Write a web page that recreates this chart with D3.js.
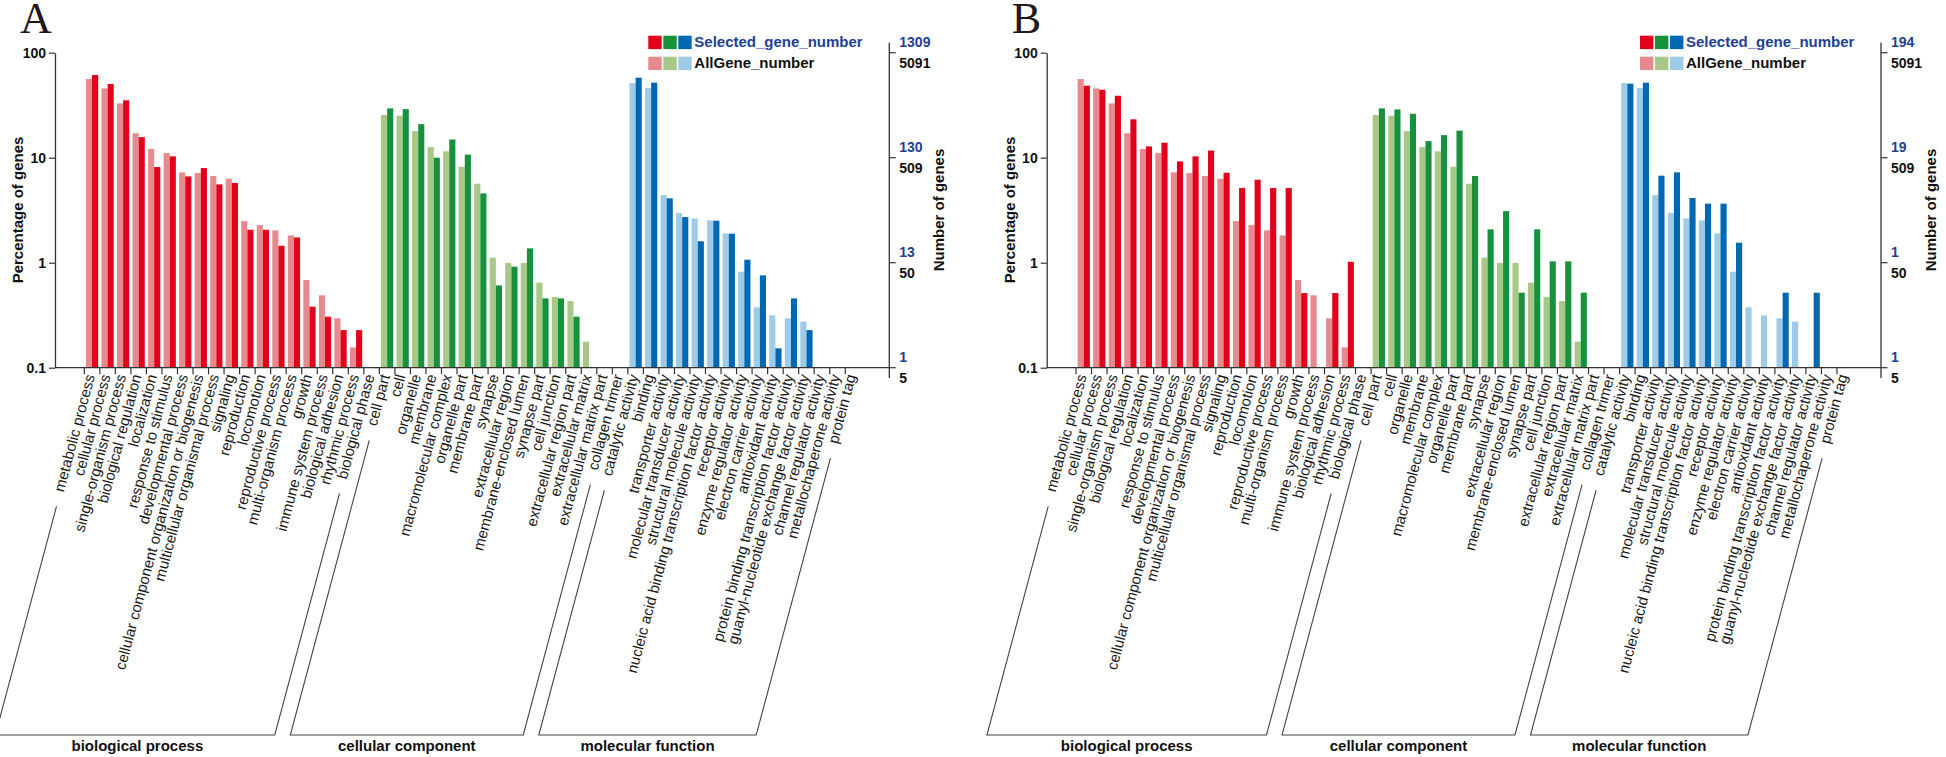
<!DOCTYPE html>
<html><head><meta charset="utf-8">
<script src="https://cdn.jsdelivr.net/npm/d3@7"></script>
<style>
html,body{margin:0;padding:0;background:#fff;}
svg{display:block;}
</style></head>
<body>
<svg id="chart" width="1946" height="757" font-family="'Liberation Sans',Arial,Helvetica,sans-serif"></svg>
<script>
// ---------- data ----------
const bpCategories = ["metabolic process","cellular process","single-organism process","biological regulation","localization","response to stimulus","developmental process","cellular component organization or biogenesis","multicellular organismal process","signaling","reproduction","locomotion","reproductive process","multi-organism process","growth","immune system process","biological adhesion","rhythmic process","biological phase"];
const ccCategories = ["cell part","cell","organelle","membrane","macromolecular complex","organelle part","membrane part","synapse","extracellular region","membrane-enclosed lumen","synapse part","cell junction","extracellular region part","extracellular matrix","extracellular matrix part","collagen trimer"];
const mfCategories = ["catalytic activity","binding","transporter activity","molecular transducer activity","structural molecule activity","nucleic acid binding transcription factor activity","receptor activity","enzyme regulator activity","electron carrier activity","antioxidant activity","protein binding transcription factor activity","guanyl-nucleotide exchange factor activity","channel regulator activity","metallochaperone activity","protein tag"];
const groupNames = ["biological process","cellular component","molecular function"];

// AllGene_number percentages (same background in both panels)
const allBP = [56.1,45.7,32.9,17.1,12.1,11.1,7.25,7.14,6.69,6.31,2.49,2.28,2.03,1.82,0.684,0.489,0.295,0.156,null];
const allCC = [25.5,25.1,17.9,12.6,11.5,8.2,5.65,1.116,0.993,0.993,0.645,0.471,0.431,0.177,null,null];
const allMF = [51.4,46.0,4.41,2.97,2.64,2.53,1.90,0.821,0.376,0.315,0.295,0.274,null,null,null];

// Panel A Selected_gene_number percentages
const selA_BP = [61.3,50.3,35.2,15.7,8.15,10.3,6.64,7.97,5.57,5.74,2.06,2.06,1.45,1.74,0.381,0.306,0.228,0.228,null];
const selA_CC = [29.5,29.0,20.9,10.0,14.9,10.7,4.57,0.608,0.916,1.37,0.457,0.457,0.306,null,null,null];
const selA_MF = [57.8,51.8,4.10,2.72,1.60,2.51,1.89,1.068,0.757,0.153,0.457,0.228,null,null,null];

// Panel B Selected_gene_number percentages
const selB_BP = [48.5,44.4,38.9,23.2,12.8,13.9,9.23,10.3,11.7,7.19,5.14,6.17,5.14,5.14,0.514,null,0.514,1.02,null];
const selB_CC = [29.5,28.8,26.2,14.4,16.4,18.1,6.69,2.08,3.1,0.518,2.08,1.03,1.03,0.518,null,null];
const selB_MF = [50.7,51.8,6.74,7.25,4.13,3.65,3.65,1.55,null,null,0.518,null,0.518,null,null];

const pctTicks = [0.1,1,10,100];
const pctTickLabels = ["0.1","1","10","100"];
const allGeneTickLabels = ["5","50","509","5091"];
const selTickLabelsA = ["1","13","130","1309"];
const selTickLabelsB = ["1","1","19","194"];

const legendLabels = ["Selected_gene_number","AllGene_number"];
const darkColors = ["#e3001b","#15923b","#0068b2"];
const lightColors = ["#e68a8e","#a7c886","#9ecbe6"];
const blueText = "#1f4097";

// ---------- drawing ----------
const svg = d3.select("#chart");
const categories = bpCategories.concat(ccCategories, mfCategories);
const groupIndex = categories.map((c,i)=> i<bpCategories.length?0:(i<bpCategories.length+ccCategories.length?1:2));
const groupRanges = [[0,bpCategories.length-1],[bpCategories.length,bpCategories.length+ccCategories.length-1],[bpCategories.length+ccCategories.length,categories.length-1]];
const allVals = allBP.concat(allCC, allMF);

const ANG = 75*Math.PI/180;
const dir = [-Math.cos(ANG), Math.sin(ANG)];
const up = [-Math.sin(ANG), -Math.cos(ANG)];

function drawPanel(ox, selVals, selTickLabels, letter){
  const g = svg.append("g");
  const axisX = ox+55, rightX = ox+889.3;
  const x = d3.scaleBand().domain(categories).range([ox+84.3, ox+84.3+50*15.53]).padding(0);
  const y = d3.scaleLog().domain([0.1,100]).range([367.7,52.7]);
  const bw = x.bandwidth();
  const barW = bw*0.395;
  const off = (bw-2*barW)/2;
  const y0 = y(0.1);

  // bars
  const rows = categories.map((c,i)=>({c, i, all: allVals[i], sel: selVals[i], gi: groupIndex[i]}));
  g.append("g").selectAll("rect").data(rows.filter(d=>d.all)).join("rect")
    .attr("x", d=>x(d.c)+off).attr("width", barW)
    .attr("y", d=>y(d.all)).attr("height", d=>y0-y(d.all))
    .attr("fill", d=>lightColors[d.gi]);
  g.append("g").selectAll("rect").data(rows.filter(d=>d.sel)).join("rect")
    .attr("x", d=>x(d.c)+off+barW).attr("width", barW)
    .attr("y", d=>y(d.sel)).attr("height", d=>y0-y(d.sel))
    .attr("fill", d=>darkColors[d.gi]);

  const lineCol = "#333";
  // x axis line
  g.append("line").attr("x1",axisX).attr("x2",rightX).attr("y1",y0).attr("y2",y0)
    .attr("stroke",lineCol).attr("stroke-width",1.3);
  // x ticks at band starts
  g.append("g").selectAll("line").data(categories).join("line")
    .attr("x1",d=>x(d)).attr("x2",d=>x(d)).attr("y1",y0).attr("y2",y0+6.5)
    .attr("stroke",lineCol).attr("stroke-width",1.2);

  // left axis
  const la = g.append("g").attr("transform",`translate(${axisX},0)`)
    .call(d3.axisLeft(y).tickValues(pctTicks).tickFormat((d,i)=>pctTickLabels[i]).tickSize(6).tickSizeOuter(0).tickPadding(3));
  la.attr("font-family",null).attr("font-size",null);
  la.select(".domain").attr("stroke",lineCol).attr("stroke-width",1.3);
  la.selectAll(".tick line").attr("stroke",lineCol).attr("stroke-width",1.2);
  la.selectAll(".tick text").attr("font-size",14).attr("font-weight","bold").attr("fill","#111");

  // right axis
  g.append("line").attr("x1",rightX).attr("x2",rightX).attr("y1",42.7).attr("y2",378)
    .attr("stroke",lineCol).attr("stroke-width",1.3);
  const rt = g.append("g").selectAll("g").data(pctTicks).join("g");
  rt.append("line").attr("x1",rightX).attr("x2",rightX+6.5).attr("y1",d=>y(d)).attr("y2",d=>y(d))
    .attr("stroke",lineCol).attr("stroke-width",1.2);
  rt.append("text").attr("x",rightX+10).attr("y",d=>y(d)-10.4).attr("dy","0.35em")
    .attr("font-size",14).attr("font-weight","bold").attr("fill",blueText)
    .text((d,i)=>selTickLabels[i]);
  rt.append("text").attr("x",rightX+10).attr("y",d=>y(d)+10.6).attr("dy","0.35em")
    .attr("font-size",14).attr("font-weight","bold").attr("fill","#111")
    .text((d,i)=>allGeneTickLabels[i]);

  // axis titles
  g.append("text").attr("transform",`translate(${ox+23.4},210) rotate(-90)`)
    .attr("text-anchor","middle").attr("font-size",15).attr("font-weight","bold").attr("fill","#111")
    .text("Percentage of genes");
  g.append("text").attr("transform",`translate(${ox+944},210) rotate(-90)`)
    .attr("text-anchor","middle").attr("font-size",15).attr("font-weight","bold").attr("fill","#111")
    .text("Number of genes");

  // category labels
  const ly = 376;
  const labels = g.append("g").selectAll("text").data(categories).join("text")
    .attr("transform", d=>`translate(${x(d)+bw/2+3},${ly}) rotate(-75)`)
    .attr("text-anchor","end").attr("font-size",15).attr("fill","#1a1a1a")
    .text(d=>d);
  const lens = {};
  labels.each(function(d){ lens[d] = this.getComputedTextLength(); });

  // group brackets
  const bottomY = 735;
  function startPt(c){
    const ax = x(c)+bw/2+3, ay = ly;
    const L = lens[c]+15;
    return [ax+dir[0]*L+up[0]*3.5, ay+dir[1]*L+up[1]*3.5];
  }
  function toBottom(p){
    const t = (bottomY-p[1])/dir[1];
    return [p[0]+dir[0]*t, bottomY];
  }
  groupRanges.forEach((r,gi)=>{
    const pL = startPt(categories[r[0]]), pR = startPt(categories[r[1]]);
    const bL = toBottom(pL), bR = toBottom(pR);
    const path = d3.path();
    path.moveTo(pL[0],pL[1]); path.lineTo(bL[0],bL[1]); path.lineTo(bR[0],bR[1]); path.lineTo(pR[0],pR[1]);
    g.append("path").attr("d",path.toString()).attr("fill","none").attr("stroke","#444").attr("stroke-width",1.1);
    g.append("text").attr("x",(Math.max(bL[0],0)+bR[0])/2).attr("y",751).attr("text-anchor","middle")
      .attr("font-size",15).attr("font-weight","bold").attr("fill","#111").text(groupNames[gi]);
  });

  // legend
  const sqX = [ox+648.3, ox+663.3, ox+678.3];
  const sq = 13.4;
  [darkColors, lightColors].forEach((cols,row)=>{
    const yy = row===0?35.7:56.7;
    cols.forEach((col,k)=>{
      g.append("rect").attr("x",sqX[k]).attr("y",yy).attr("width",sq).attr("height",sq).attr("fill",col);
    });
    g.append("text").attr("x",ox+694.3).attr("y",yy+11.6).attr("font-size",15).attr("font-weight","bold")
      .attr("fill", row===0?blueText:"#111").text(legendLabels[row]);
  });

  // panel letter
  g.append("text").attr("x",ox+20).attr("y",33).attr("font-size",44)
    .attr("font-family","'Liberation Serif','Times New Roman',serif").attr("fill","#231815").text(letter);
}

drawPanel(0, selA_BP.concat(selA_CC, selA_MF), selTickLabelsA, "A");
drawPanel(991.7, selB_BP.concat(selB_CC, selB_MF), selTickLabelsB, "B");
</script>
</body></html>
